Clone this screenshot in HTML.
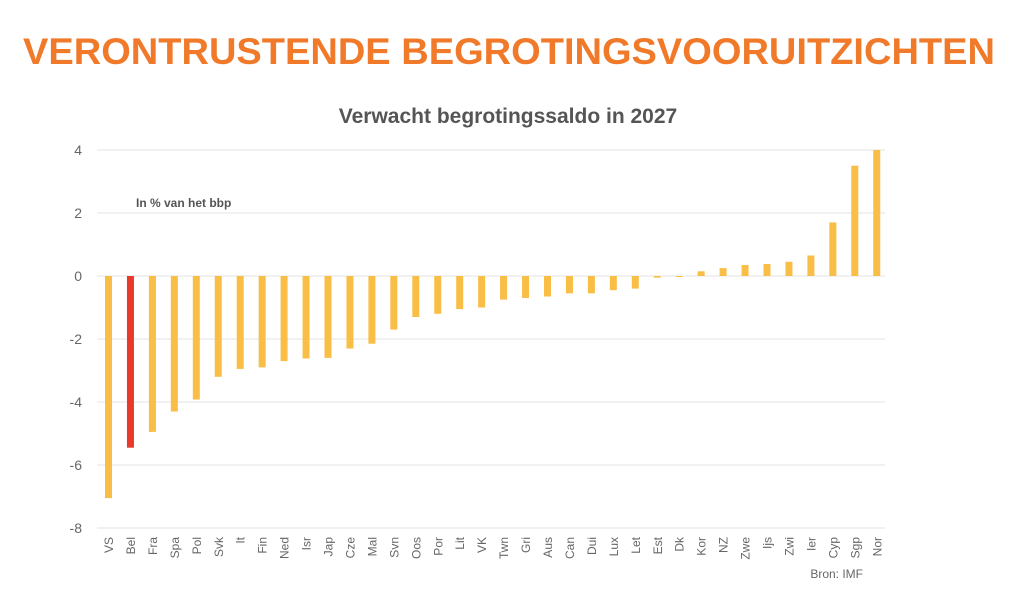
<!DOCTYPE html>
<html><head><meta charset="utf-8"><style>
body{margin:0;background:#fff;width:1024px;height:606px;overflow:hidden}
svg{display:block}
</style></head><body>
<svg width="1024" height="606" xmlns="http://www.w3.org/2000/svg" font-family="Liberation Sans, sans-serif">
<text x="509" y="64" text-anchor="middle" font-size="37" font-weight="bold" fill="#f07a2a" textLength="972" lengthAdjust="spacingAndGlyphs">VERONTRUSTENDE BEGROTINGSVOORUITZICHTEN</text>
<text x="508" y="123" text-anchor="middle" font-size="21" font-weight="bold" fill="#555">Verwacht begrotingssaldo in 2027</text>
<g stroke="#e3e3e3" stroke-width="1">
<line x1="97" x2="885" y1="150" y2="150"/><line x1="97" x2="885" y1="213" y2="213"/><line x1="97" x2="885" y1="276" y2="276"/><line x1="97" x2="885" y1="339" y2="339"/><line x1="97" x2="885" y1="402" y2="402"/><line x1="97" x2="885" y1="465" y2="465"/><line x1="97" x2="885" y1="528" y2="528"/>
</g>
<g font-size="14" fill="#666" text-anchor="end">
<text x="82" y="155">4</text><text x="82" y="218">2</text><text x="82" y="281">0</text><text x="82" y="344">-2</text><text x="82" y="407">-4</text><text x="82" y="470">-6</text><text x="82" y="533">-8</text>
</g>
<text x="136" y="207" font-size="12" font-weight="bold" fill="#555">In % van het bbp</text>
<text x="863" y="578" text-anchor="end" font-size="12" fill="#666">Bron: IMF</text>
<g fill="#f8be45">
<rect x="105" y="276" width="7" height="222.1"/>
<rect x="126.95" y="276" width="7" height="171.7" fill="#e8392a"/>
<rect x="148.9" y="276" width="7" height="155.9"/>
<rect x="170.85" y="276" width="7" height="135.5"/>
<rect x="192.8" y="276" width="7" height="123.5"/>
<rect x="214.75" y="276" width="7" height="100.8"/>
<rect x="236.7" y="276" width="7" height="92.9"/>
<rect x="258.65" y="276" width="7" height="91.4"/>
<rect x="280.6" y="276" width="7" height="85.1"/>
<rect x="302.55" y="276" width="7" height="82.5"/>
<rect x="324.5" y="276" width="7" height="81.9"/>
<rect x="346.45" y="276" width="7" height="72.5"/>
<rect x="368.4" y="276" width="7" height="67.7"/>
<rect x="390.35" y="276" width="7" height="53.6"/>
<rect x="412.3" y="276" width="7" height="41"/>
<rect x="434.25" y="276" width="7" height="37.8"/>
<rect x="456.2" y="276" width="7" height="33.1"/>
<rect x="478.15" y="276" width="7" height="31.5"/>
<rect x="500.1" y="276" width="7" height="23.6"/>
<rect x="522.05" y="276" width="7" height="22"/>
<rect x="544" y="276" width="7" height="20.5"/>
<rect x="565.95" y="276" width="7" height="17.3"/>
<rect x="587.9" y="276" width="7" height="17.3"/>
<rect x="609.85" y="276" width="7" height="14.2"/>
<rect x="631.8" y="276" width="7" height="12.6"/>
<rect x="653.75" y="276" width="7" height="1.6"/>
<rect x="675.7" y="276" width="7" height="1"/>
<rect x="697.65" y="271.3" width="7" height="4.7"/>
<rect x="719.6" y="268.1" width="7" height="7.9"/>
<rect x="741.55" y="265" width="7" height="11"/>
<rect x="763.5" y="264" width="7" height="12"/>
<rect x="785.45" y="261.8" width="7" height="14.2"/>
<rect x="807.4" y="255.5" width="7" height="20.5"/>
<rect x="829.35" y="222.4" width="7" height="53.6"/>
<rect x="851.3" y="165.7" width="7" height="110.3"/>
<rect x="873.25" y="150" width="7" height="126"/>
</g>
<g font-size="12" fill="#666" text-anchor="end">
<text transform="translate(113,537) rotate(-90)">VS</text>
<text transform="translate(134.95,537) rotate(-90)">Bel</text>
<text transform="translate(156.9,537) rotate(-90)">Fra</text>
<text transform="translate(178.85,537) rotate(-90)">Spa</text>
<text transform="translate(200.8,537) rotate(-90)">Pol</text>
<text transform="translate(222.75,537) rotate(-90)">Svk</text>
<text transform="translate(244.7,537) rotate(-90)">It</text>
<text transform="translate(266.65,537) rotate(-90)">Fin</text>
<text transform="translate(288.6,537) rotate(-90)">Ned</text>
<text transform="translate(310.55,537) rotate(-90)">Isr</text>
<text transform="translate(332.5,537) rotate(-90)">Jap</text>
<text transform="translate(354.45,537) rotate(-90)">Cze</text>
<text transform="translate(376.4,537) rotate(-90)">Mal</text>
<text transform="translate(398.35,537) rotate(-90)">Svn</text>
<text transform="translate(420.3,537) rotate(-90)">Oos</text>
<text transform="translate(442.25,537) rotate(-90)">Por</text>
<text transform="translate(464.2,537) rotate(-90)">Lit</text>
<text transform="translate(486.15,537) rotate(-90)">VK</text>
<text transform="translate(508.1,537) rotate(-90)">Twn</text>
<text transform="translate(530.05,537) rotate(-90)">Gri</text>
<text transform="translate(552,537) rotate(-90)">Aus</text>
<text transform="translate(573.95,537) rotate(-90)">Can</text>
<text transform="translate(595.9,537) rotate(-90)">Dui</text>
<text transform="translate(617.85,537) rotate(-90)">Lux</text>
<text transform="translate(639.8,537) rotate(-90)">Let</text>
<text transform="translate(661.75,537) rotate(-90)">Est</text>
<text transform="translate(683.7,537) rotate(-90)">Dk</text>
<text transform="translate(705.65,537) rotate(-90)">Kor</text>
<text transform="translate(727.6,537) rotate(-90)">NZ</text>
<text transform="translate(749.55,537) rotate(-90)">Zwe</text>
<text transform="translate(771.5,537) rotate(-90)">Ijs</text>
<text transform="translate(793.45,537) rotate(-90)">Zwi</text>
<text transform="translate(815.4,537) rotate(-90)">Ier</text>
<text transform="translate(837.35,537) rotate(-90)">Cyp</text>
<text transform="translate(859.3,537) rotate(-90)">Sgp</text>
<text transform="translate(881.25,537) rotate(-90)">Nor</text>
</g>
</svg>
</body></html>
